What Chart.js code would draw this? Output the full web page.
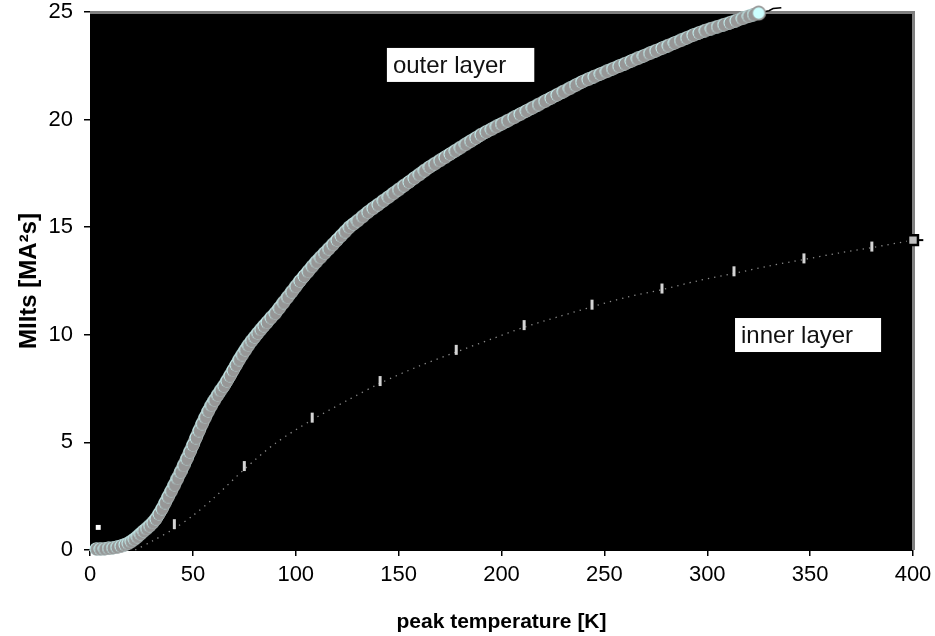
<!DOCTYPE html>
<html>
<head>
<meta charset="utf-8">
<script src="https://cdn.jsdelivr.net/npm/chart.js@4"></script>
<style>
html,body{margin:0;padding:0;background:#fff;}
#wrap{width:935px;height:636px;}
</style>
</head>
<body>
<div id="wrap"><canvas id="c" width="935" height="636"></canvas></div>
<script>
// ---- data ----
const outerX = [3,5,7,9,11,13,15,17,18.5,20,21.5,23,24.5,26,27.5,29,30.5,32,33.5,35,36.5,38,39.5,41,42.5,44,45.5,47,48.5,50,51.5,53,54.5,56,57.5,59,60.5,62,63.5,65,66.5,68,69.5,71,72.5,74,75.5,77,78.5,80,81.5,83,84.5,86,88,90,92,94,96,98,100,102,104,106,108,110,112,114,116,118,120,122,124,126,128,130,132.5,135,137.5,140,142.5,145,147.5,150,152.5,155,157.5,160,162.5,165,167.5,170,172.5,175,177.5,180,182.5,185,187.5,190,192.5,195,197.5,200,203,206,209,212,215,218,221,224,227,230,233,236,239,242,245,248,251,254,257,260,263,266,269,272,275,278,281,284,287,290,293,296,299,302,305,308,311,314,317,320,322.5,325];
const outerY = [0.05,0.05,0.06,0.08,0.1,0.13,0.18,0.25,0.31,0.4,0.5,0.62,0.75,0.88,1.0,1.13,1.28,1.45,1.68,1.92,2.2,2.48,2.75,3.03,3.33,3.63,3.93,4.24,4.56,4.88,5.22,5.55,5.87,6.17,6.46,6.73,6.97,7.2,7.42,7.62,7.86,8.1,8.35,8.6,8.85,9.08,9.3,9.52,9.72,9.9,10.08,10.25,10.42,10.58,10.8,11.0,11.25,11.5,11.75,12.0,12.25,12.5,12.73,12.95,13.18,13.4,13.6,13.8,14.0,14.2,14.4,14.6,14.8,15.0,15.15,15.3,15.5,15.7,15.88,16.05,16.23,16.4,16.58,16.75,16.93,17.1,17.28,17.45,17.63,17.8,17.95,18.1,18.25,18.4,18.55,18.7,18.85,19.0,19.15,19.3,19.43,19.55,19.68,19.8,19.95,20.1,20.25,20.4,20.55,20.7,20.85,21.0,21.15,21.3,21.45,21.6,21.75,21.87,22.0,22.12,22.24,22.36,22.48,22.6,22.72,22.84,22.96,23.08,23.2,23.32,23.44,23.56,23.68,23.8,23.92,24.03,24.14,24.23,24.32,24.41,24.5,24.6,24.7,24.8,24.88,24.95];
const tailX = [326,330,332,336];
const tailY = [24.98,25.06,25.16,25.2];

const innerX = [22,30,41,50,60,75,90,108,125,141,160,178,195,211,228,244,261,278,295,313,330,347,364,380,400];
const innerY = [0,0.4,1.0,1.6,2.4,3.75,4.95,6.05,6.95,7.75,8.55,9.2,9.8,10.35,10.85,11.3,11.75,12.1,12.5,12.85,13.2,13.5,13.8,14.05,14.4];
const markX = [41,75,108,141,178,211,244,278,313,347,380];
const markY = [1.2,3.9,6.15,7.85,9.3,10.45,11.4,12.15,12.95,13.55,14.1];
const startX = [4];
const startY = [1.05];
const endX = [400];
const endY = [14.4];
const endTailX = [400,405];
const endTailY = [14.4,14.4];

const xTicks = [0,50,100,150,200,250,300,350,400];
const yTicks = [0,5,10,15,20,25];

const xTitle = 'peak temperature [K]';
const yTitle = 'MIIts [MA\u00B2s]';
const notes = [
  {text:'outer layer', x:144.3, y:23.33},
  {text:'inner layer', x:313.5, y:10.78}
];

// ---- helpers ----
const pts = (xs, ys) => xs.map((x, i) => ({x: x, y: ys[i]}));
const FONT = "'Liberation Sans', Arial, sans-serif";

function makeCrescent() {
  const c = document.createElement('canvas');
  c.width = 14; c.height = 14;
  const g = c.getContext('2d');
  g.beginPath(); g.arc(7, 7, 6.5, 0, Math.PI * 2); g.fillStyle = '#ccffff'; g.fill();
  g.save(); g.beginPath(); g.arc(7, 7, 6.5, 0, Math.PI * 2); g.clip();
  g.beginPath(); g.arc(8.3, 7.3, 6.8, 0, Math.PI * 2); g.fillStyle = '#979797'; g.fill();
  g.restore();
  return c;
}
function makeEndCircle() {
  const c = document.createElement('canvas');
  c.width = 16; c.height = 16;
  const g = c.getContext('2d');
  g.beginPath(); g.arc(8, 8, 6.6, 0, Math.PI * 2); g.fillStyle = '#ccffff'; g.fill();
  g.lineWidth = 1.6; g.strokeStyle = '#979797'; g.stroke();
  return c;
}
const crescent = makeCrescent();
const endCircle = makeEndCircle();

const plotBg = {
  id: 'plotBg',
  beforeDraw(chart) {
    const {ctx, chartArea: a} = chart;
    ctx.save();
    ctx.fillStyle = '#000';
    ctx.fillRect(a.left, a.top, a.right - a.left, a.bottom - a.top);
    ctx.restore();
  },
  beforeDatasetsDraw(chart) {
    const {ctx, chartArea: a} = chart;
    ctx.save();
    ctx.strokeStyle = '#808080';
    ctx.lineWidth = 3;
    ctx.beginPath();
    ctx.moveTo(a.left, a.top + 0.5);
    ctx.lineTo(a.right + 0.5, a.top + 0.5);
    ctx.lineTo(a.right + 0.5, a.bottom);
    ctx.stroke();
    ctx.restore();
  },
  afterDraw(chart) {
    const {ctx, scales} = chart;
    ctx.save();
    ctx.font = '24px ' + FONT;
    ctx.textBaseline = 'middle';
    notes.forEach(n => {
      const px = scales.x.getPixelForValue(n.x);
      const py = scales.y.getPixelForValue(n.y);
      const w = ctx.measureText(n.text).width + 34;
      ctx.fillStyle = '#fff';
      ctx.fillRect(px, py, w, 34);
      ctx.fillStyle = '#111';
      ctx.fillText(n.text, px + 6, py + 18);
    });
    ctx.restore();
  }
};

new Chart(document.getElementById('c'), {
  type: 'scatter',
  data: {
    datasets: [
      {
        label: 'outer layer',
        data: pts(outerX, outerY),
        showLine: true,
        borderColor: '#979797',
        borderWidth: 13,
        borderCapStyle: 'round',
        borderJoinStyle: 'round',
        tension: 0,
        pointStyle: ctx => (ctx.dataIndex === outerX.length - 1 ? endCircle : crescent),
        pointRadius: 6,
        clip: false
      },
      {
        label: 'outer tail',
        data: pts(tailX, tailY),
        showLine: true,
        borderColor: '#000',
        borderWidth: 1.5,
        pointRadius: 0,
        clip: false
      },
      {
        label: 'inner markers',
        data: pts(markX, markY),
        showLine: false,
        pointStyle: 'line',
        rotation: 90,
        pointRadius: 5,
        pointBorderWidth: 3,
        pointBorderColor: '#d4d4d4',
        clip: false
      },
      {
        label: 'inner start',
        data: pts(startX, startY),
        showLine: false,
        pointStyle: 'rect',
        pointRadius: 3.5,
        pointBackgroundColor: '#fff',
        pointBorderColor: '#fff',
        pointBorderWidth: 0,
        clip: false
      },
      {
        label: 'inner end',
        data: pts(endX, endY),
        showLine: false,
        pointStyle: 'rect',
        pointRadius: 7,
        pointBackgroundColor: '#c0c0c0',
        pointBorderColor: '#000',
        pointBorderWidth: 2.5,
        clip: false
      },
      {
        label: 'inner end tail',
        data: pts(endTailX, endTailY),
        showLine: true,
        borderColor: '#000',
        borderWidth: 2,
        pointRadius: 0,
        clip: false
      },
      {
        label: 'inner layer',
        data: pts(innerX, innerY),
        showLine: true,
        borderColor: '#8a8a8a',
        borderWidth: 1.3,
        borderDash: [1.3, 5],
        pointRadius: 0,
        tension: 0.3,
        clip: false
      }
    ]
  },
  options: {
    responsive: false,
    animation: false,
    devicePixelRatio: 1,
    layout: {autoPadding: false, padding: {left: 0, top: 12, right: 22, bottom: 0}},
    plugins: {legend: {display: false}, tooltip: {enabled: false}},
    scales: {
      x: {
        type: 'linear',
        min: 0, max: 400,
        afterFit: s => { s.height = 86; s.paddingLeft = 0; s.paddingRight = 0; },
        afterBuildTicks: s => { s.ticks = xTicks.map(v => ({value: v})); },
        grid: {drawOnChartArea: false, drawTicks: true, tickLength: 6, color: '#000', lineWidth: 1.5},
        border: {display: true, color: '#000', width: 1},
        ticks: {padding: 6, color: '#000', font: {family: FONT, size: 22}, maxRotation: 0},
        title: {display: true, text: xTitle, color: '#000', font: {family: FONT, size: 21, weight: 'bold'}, padding: {top: 0, bottom: 1}}
      },
      y: {
        type: 'linear',
        min: 0, max: 25,
        afterFit: s => { s.width = 90; s.paddingTop = 0; s.paddingBottom = 0; },
        afterBuildTicks: s => { s.ticks = yTicks.map(v => ({value: v})); },
        grid: {drawOnChartArea: false, drawTicks: true, tickLength: 6, color: '#000', lineWidth: 1.5},
        border: {display: true, color: '#000', width: 1},
        ticks: {padding: 11, color: '#000', font: {family: FONT, size: 22}},
        title: {display: true, text: yTitle, color: '#000', font: {family: FONT, size: 24, weight: 'bold'}, padding: {top: 15, bottom: 0}}
      }
    }
  },
  plugins: [plotBg]
});
</script>
</body>
</html>
